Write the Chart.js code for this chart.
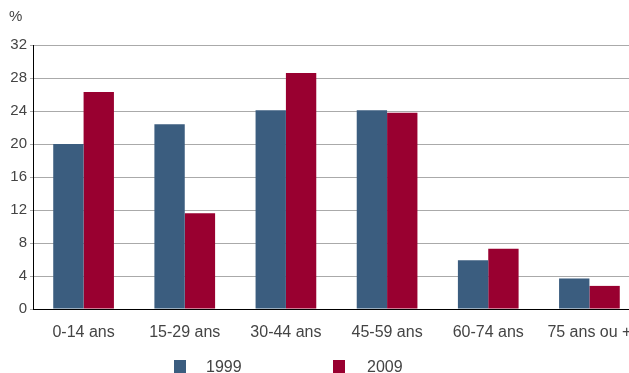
<!DOCTYPE html>
<html>
<head>
<meta charset="utf-8">
<script src="https://cdn.jsdelivr.net/npm/chart.js@4.4.0/dist/chart.umd.min.js"></script>
<style>
  html, body { margin: 0; padding: 0; background: #fff; overflow: hidden; }
  #wrap { width: 640px; height: 373px; }
</style>
</head>
<body>
<div id="wrap"><canvas id="chart" width="640" height="373"></canvas></div>
<script>
const categories = ['0-14 ans', '15-29 ans', '30-44 ans', '45-59 ans', '60-74 ans', '75 ans ou +'];
const values1999 = [20.0, 22.4, 24.1, 24.1, 5.9, 3.7];
const values2009 = [26.3, 11.6, 28.6, 23.8, 7.3, 2.8];
const seriesLabels = ['1999', '2009'];
const yTicks = [0, 4, 8, 12, 16, 20, 24, 28, 32];

const blue = '#3b5d7f';
const red = '#990030';
const fontFamily = '"Liberation Sans", Arial, sans-serif';

// draws the "%" unit and the legend below the axis
const extras = {
    id: 'extras',
    afterDraw(chart) {
        const ctx = chart.ctx;
        ctx.save();
        ctx.fillStyle = '#444';
        ctx.font = '15px ' + fontFamily;
        ctx.textBaseline = 'middle';
        ctx.textAlign = 'left';
        ctx.fillText('%', 9, 17);

        const items = [
            { x: 174, textX: 206 },
            { x: 333, textX: 367 }
        ];
        ctx.font = '16px ' + fontFamily;
        ctx.textBaseline = 'alphabetic';
        chart.data.datasets.forEach((ds, i) => {
            ctx.fillStyle = ds.backgroundColor;
            ctx.fillRect(items[i].x, 360, 12, 13);
            ctx.fillStyle = '#444';
            ctx.fillText(ds.label, items[i].textX, 372);
        });
        ctx.restore();
    }
};

new Chart(document.getElementById('chart').getContext('2d'), {
    type: 'bar',
    data: {
        labels: categories,
        datasets: [
            { label: seriesLabels[0], data: values1999, backgroundColor: blue },
            { label: seriesLabels[1], data: values2009, backgroundColor: red }
        ]
    },
    options: {
        responsive: false,
        animation: false,
        layout: { padding: { top: 45, bottom: 34, left: 0, right: 0 } },
        datasets: { bar: { categoryPercentage: 0.6, barPercentage: 1 } },
        plugins: {
            legend: { display: false },
            tooltip: { enabled: false }
        },
        scales: {
            x: {
                grid: { display: false },
                border: { color: '#000', width: 1 },
                ticks: {
                    color: '#444',
                    padding: 6,
                    maxRotation: 0,
                    autoSkip: false,
                    font: { family: fontFamily, size: 16 }
                },
                afterFit(scale) { scale.height = 30; }
            },
            y: {
                min: 0,
                max: 32,
                afterBuildTicks(scale) { scale.ticks = yTicks.map(v => ({ value: v })); },
                grid: { color: '#aaa', lineWidth: 1, tickLength: 3 },
                border: { color: '#000', width: 1 },
                ticks: {
                    color: '#444',
                    padding: 3,
                    font: { family: fontFamily, size: 15 }
                },
                afterFit(scale) { scale.width = 33; }
            }
        }
    },
    plugins: [extras]
});
</script>
</body>
</html>
